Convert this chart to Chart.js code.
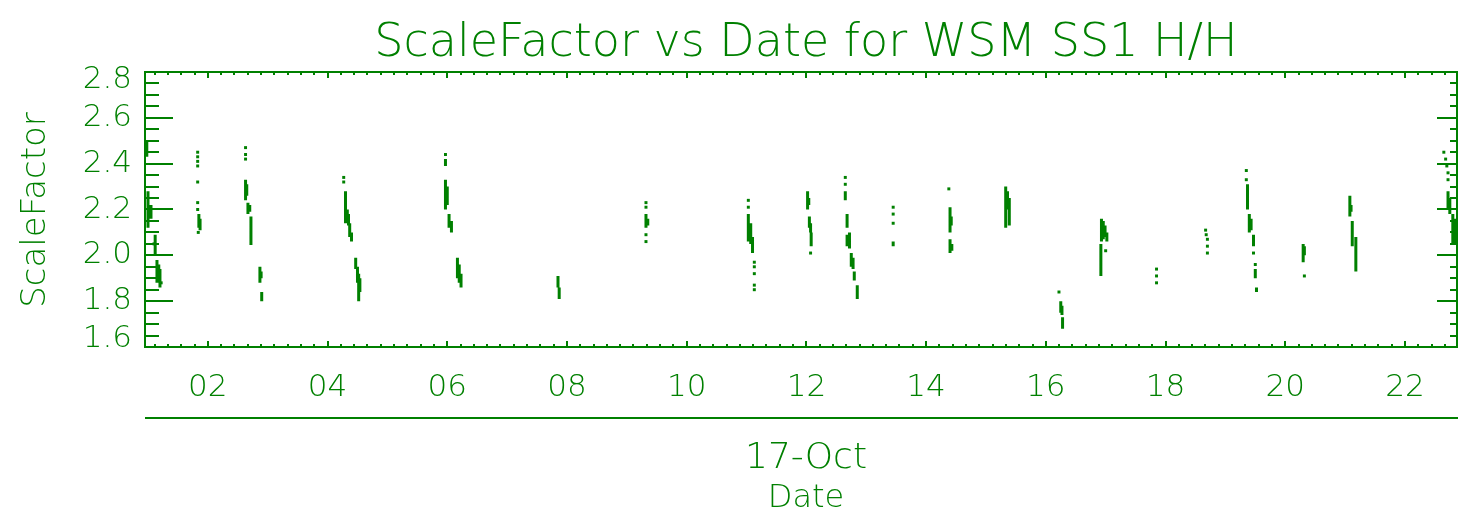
<!DOCTYPE html>
<html>
<head>
<meta charset="utf-8">
<title>ScaleFactor vs Date for WSM SS1 H/H</title>
<script src="https://cdn.jsdelivr.net/npm/chart.js@4.4.1/dist/chart.umd.min.js"></script>
<style>
  html, body { margin: 0; padding: 0; background: #fff; }
  #wrap { width: 1461px; height: 515px; }
</style>
</head>
<body>
<div id="wrap"><canvas id="myChart" width="1461" height="515"></canvas></div>
<script>
const GREEN = '#008000';
const FONT = '"DejaVu Sans", "Liberation Sans", sans-serif';
const WEIGHT = '200 ';

// continuous runs of samples: hour of 17-Oct, highest and lowest ScaleFactor
var runHour = [0.98, 1.00, 1.05, 1.12, 1.15, 1.18, 1.20, 1.85, 1.87,
  2.63, 2.65, 2.67, 2.70, 2.72, 2.87, 2.89, 2.90,
  4.30, 4.33, 4.35, 4.37, 4.40, 4.47, 4.50, 4.52, 4.54,
  5.97, 5.97, 6.00, 6.03, 6.07, 6.17, 6.20, 6.23,
  7.85, 7.87, 9.32, 9.35, 11.03, 11.07, 11.10,
  12.02, 12.04, 12.05, 12.07, 12.08,
  12.65, 12.68, 12.68, 12.72, 12.75, 12.78, 12.80, 12.85, 13.45,
  14.40, 14.42, 14.40, 14.43, 15.33, 15.36, 15.39,
  16.25, 16.27, 16.28, 16.93, 16.96, 16.99, 17.02, 16.92,
  19.37, 19.40, 19.43, 19.47, 19.50, 19.52, 20.30, 20.32,
  21.08, 21.10, 21.12, 21.18, 22.72, 22.75, 22.80, 22.83, 22.85];
var runTop = [2.50, 2.28, 2.22, 2.09, 1.98, 1.96, 1.94, 2.18, 2.16,
  2.33, 2.31, 2.23, 2.22, 2.17, 1.95, 1.93, 1.84,
  2.28, 2.20, 2.18, 2.14, 2.10, 1.99, 1.95, 1.92, 1.90,
  2.42, 2.33, 2.30, 2.18, 2.15, 1.99, 1.96, 1.92,
  1.91, 1.86, 2.18, 2.16, 2.18, 2.14, 2.08,
  2.28, 2.25, 2.17, 2.14, 2.10,
  2.28, 2.18, 2.09, 2.10, 2.01, 1.99, 1.93, 1.87, 2.06,
  2.21, 2.17, 2.07, 2.05, 2.30, 2.28, 2.25,
  1.80, 1.78, 1.73, 2.16, 2.15, 2.13, 2.10, 2.05,
  2.31, 2.18, 2.16, 2.09, 1.94, 1.86, 2.05, 2.04,
  2.26, 2.22, 2.15, 2.08, 2.28, 2.25, 2.18, 2.16, 2.12];
var runBottom = [2.43, 2.12, 2.16, 2.00, 1.88, 1.90, 1.86, 2.12, 2.11,
  2.24, 2.26, 2.18, 2.19, 2.045, 1.88, 1.90, 1.80,
  2.14, 2.15, 2.13, 2.08, 2.06, 1.94, 1.88, 1.80, 1.84,
  2.39, 2.20, 2.22, 2.12, 2.10, 1.90, 1.88, 1.86,
  1.86, 1.81, 2.12, 2.13, 2.06, 2.05, 2.01,
  2.20, 2.22, 2.12, 2.10, 2.04,
  2.24, 2.12, 2.04, 2.03, 1.95, 1.94, 1.89, 1.81, 2.04,
  2.10, 2.13, 2.01, 2.02, 2.12, 2.20, 2.13,
  1.75, 1.74, 1.68, 2.06, 2.07, 2.08, 2.06, 1.91,
  2.20, 2.10, 2.11, 2.04, 1.90, 1.84, 1.97, 2.00,
  2.17, 2.19, 2.04, 1.93, 2.20, 2.18, 2.05, 2.08, 2.05];

// single samples
var dotHour = [1.10, 1.22,
  1.83, 1.83, 1.83, 1.83, 1.83, 1.83, 1.83, 1.84,
  2.63, 2.63, 2.63, 4.27, 4.27, 5.97,
  9.32, 9.32, 9.32, 9.32, 11.03, 11.03,
  11.13, 11.13, 11.13, 11.13, 11.13, 12.07, 12.65, 12.65,
  13.45, 13.45, 13.45, 14.38, 16.22, 17.00,
  17.85, 17.85, 17.85, 18.67, 18.68, 18.70, 18.70, 18.70,
  19.35, 19.35, 19.47, 19.50, 20.32,
  22.65, 22.68, 22.70, 22.72, 22.72];
var dotValue = [2.05, 1.88,
  2.45, 2.43, 2.41, 2.39, 2.32, 2.23, 2.20, 2.10,
  2.47, 2.44, 2.42, 2.34, 2.32, 2.44,
  2.23, 2.21, 2.09, 2.06, 2.24, 2.21,
  1.97, 1.95, 1.92, 1.87, 1.85, 2.01, 2.34, 2.31,
  2.21, 2.18, 2.14, 2.29, 1.84, 2.02,
  1.94, 1.91, 1.88, 2.11, 2.09, 2.07, 2.04, 2.01,
  2.37, 2.33, 2.01, 1.96, 1.91,
  2.45, 2.42, 2.39, 2.36, 2.33];

// axis labels
var hourTicks = [2, 4, 6, 8, 10, 12, 14, 16, 18, 20, 22];
var hourLabels = ['02', '04', '06', '08', '10', '12', '14', '16', '18', '20', '22'];
var factorTicks = [1.6, 1.8, 2.0, 2.2, 2.4, 2.6, 2.8];
var factorLabels = ['1.6', '1.8', '2.0', '2.2', '2.4', '2.6', '2.8'];

const runPoints = [];
runHour.forEach((h, i) => {
  runPoints.push({x: h, y: runTop[i]}, {x: h, y: runBottom[i]}, {x: h, y: null});
});
const dotPoints = dotHour.map((h, i) => ({x: h, y: dotValue[i]}));

// box, inward ticks on all four sides and all text
const frame = {
  id: 'frame',
  afterDraw(chart) {
    const {ctx, chartArea: a, scales: {x, y}} = chart;
    ctx.save();
    ctx.strokeStyle = GREEN;
    ctx.fillStyle = GREEN;
    ctx.lineWidth = 2;
    ctx.strokeRect(a.left, a.top, a.right - a.left, a.bottom - a.top);

    ctx.beginPath();
    for (let k = 0; k * 2 / 9 <= x.max; k++) {
      const h = k * 2 / 9;
      if (h < x.min) continue;
      const px = Math.round(x.getPixelForValue(h));
      const len = k % 9 === 0 ? 6 : 3;
      ctx.moveTo(px, a.bottom); ctx.lineTo(px, a.bottom - len);
      ctx.moveTo(px, a.top); ctx.lineTo(px, a.top + len);
    }
    for (let k = 0; k <= 24; k++) {
      const py = Math.round(y.getPixelForValue(1.6 + k * 0.05));
      const major = k % 4 === 0;
      ctx.moveTo(a.left, py); ctx.lineTo(a.left + (major ? 28 : 14), py);
      ctx.moveTo(a.right, py); ctx.lineTo(a.right - (major ? 20 : 7), py);
    }
    // date axis under the hour labels
    ctx.moveTo(a.left, 418); ctx.lineTo(a.right + 1, 418);
    ctx.stroke();

    ctx.font = WEIGHT + '31px ' + FONT;
    ctx.textAlign = 'center';
    ctx.textBaseline = 'middle';
    hourTicks.forEach((h, i) => ctx.fillText(hourLabels[i], x.getPixelForValue(h), 388));
    ctx.textAlign = 'right';
    factorTicks.forEach((v, i) => {
      const py = Math.min(Math.max(y.getPixelForValue(v), a.top + 8), a.bottom - 8);
      ctx.fillText(factorLabels[i], 132, py);
    });

    const cx = 806;
    ctx.textAlign = 'center';
    ctx.textBaseline = 'alphabetic';
    ctx.font = WEIGHT + '46px ' + FONT;
    ctx.fillText('ScaleFactor vs Date for WSM SS1 H/H', cx, 56);
    ctx.font = WEIGHT + '36px ' + FONT;
    ctx.fillText('17-Oct', cx, 468);
    ctx.font = WEIGHT + '32px ' + FONT;
    ctx.fillText('Date', cx, 507);

    ctx.translate(45, 210);
    ctx.rotate(-Math.PI / 2);
    ctx.font = WEIGHT + '34px ' + FONT;
    ctx.fillText('ScaleFactor', 0, 0);
    ctx.restore();
  }
};

new Chart('myChart', {
  type: 'scatter',
  data: {
    datasets: [{
      data: runPoints,
      showLine: true,
      spanGaps: false,
      borderColor: GREEN,
      borderWidth: 3,
      pointRadius: 0
    }, {
      data: dotPoints,
      pointStyle: 'rect',
      pointRadius: 2.1,
      backgroundColor: GREEN,
      borderWidth: 0
    }]
  },
  options: {
    responsive: false,
    animation: false,
    devicePixelRatio: 1,
    layout: {padding: {left: 145, top: 72, right: 1, bottom: 168}},
    plugins: {legend: {display: false}, tooltip: {enabled: false}, title: {display: false}},
    scales: {
      x: {type: 'linear', min: 0.95, max: 22.87, display: false},
      y: {min: 1.6, max: 2.8, display: false}
    }
  },
  plugins: [frame]
});
</script>
</body>
</html>
